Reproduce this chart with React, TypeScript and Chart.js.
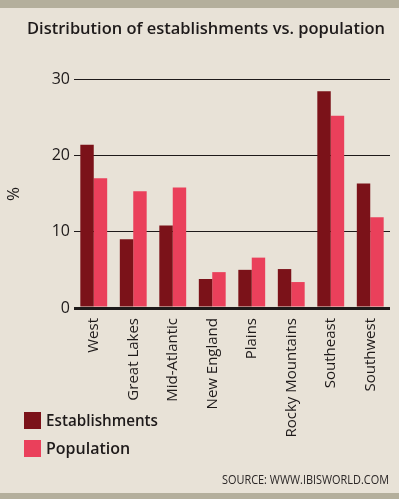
import React, { useEffect, useRef } from "react";
import { Chart, registerables } from "chart.js";

Chart.register(...registerables);

const categories = ["West", "Great Lakes", "Mid-Atlantic", "New England", "Plains", "Rocky Mountains", "Southeast", "Southwest"];
const establishments = [21.4, 9.0, 10.8, 3.8, 5.0, 5.1, 28.4, 16.3];
const population = [17.0, 15.3, 15.8, 4.7, 6.6, 3.4, 25.2, 11.9];
const seriesNames = ["Establishments", "Population"];
const seriesColors = ["#7B1219", "#EA405B"];
const titleText = "Distribution of establishments vs. population";
const sourceText = "SOURCE: WWW.IBISWORLD.COM";
const yTitle = "%";

const BG = "#E8E2D7";
const BAND = "#B4AF9C";
const INK = "#1E1A1A";
const FONT = "'Open Sans', sans-serif";

const decorPlugin = {
  id: "decor",
  beforeDraw(chart: any) {
    const ctx = chart.ctx;
    ctx.save();
    ctx.fillStyle = BG;
    ctx.fillRect(0, 0, chart.width, chart.height);
    ctx.fillStyle = BAND;
    ctx.fillRect(0, 0, chart.width, 8);
    ctx.fillRect(0, 493, chart.width, chart.height - 493);
    ctx.restore();
  },
  afterDraw(chart: any) {
    const ctx = chart.ctx;
    ctx.save();
    ctx.fillStyle = INK;
    ctx.textBaseline = "middle";
    ctx.textAlign = "left";
    ctx.font = `600 17px ${FONT}`;
    ctx.fillText(titleText, 27, 29, 358);

    ctx.save();
    ctx.translate(14, 194);
    ctx.rotate(-Math.PI / 2);
    ctx.textAlign = "center";
    ctx.font = `17px ${FONT}`;
    ctx.fillText(yTitle, 0, 0);
    ctx.restore();

    // legend
    const legendY = [420, 448];
    ctx.font = `600 16px ${FONT}`;
    seriesNames.forEach((name, i) => {
      ctx.fillStyle = seriesColors[i];
      ctx.fillRect(24, legendY[i] - 8, 17, 17);
      ctx.fillStyle = INK;
      ctx.textAlign = "left";
      ctx.fillText(name, 46, legendY[i] + 1, 112);
    });

    ctx.font = `12px ${FONT}`;
    ctx.textAlign = "right";
    ctx.fillStyle = "#2a2626";
    ctx.fillText(sourceText, 389, 481, 167);
    ctx.restore();
  },
};

export default function App() {
  const ref = useRef<HTMLCanvasElement>(null);
  useEffect(() => {
    const chart = new Chart(ref.current!, {
      type: "bar",
      data: {
        labels: categories,
        datasets: [
          { label: seriesNames[0], data: establishments, backgroundColor: seriesColors[0], borderWidth: 0 },
          { label: seriesNames[1], data: population, backgroundColor: seriesColors[1], borderWidth: 0 },
        ],
      },
      options: {
        animation: false,
        responsive: false,
        devicePixelRatio: 1,
        layout: { padding: { top: 79, right: 9, left: 0, bottom: 0 } },
        plugins: { legend: { display: false }, tooltip: { enabled: false } },
        datasets: { bar: { categoryPercentage: 0.68, barPercentage: 1.0 } },
        scales: {
          x: {
            grid: { display: false, drawTicks: false },
            border: { display: false },
            ticks: {
              minRotation: 90,
              maxRotation: 90,
              padding: 10,
              color: INK,
              font: { family: FONT, size: 15 },
              autoSkip: false,
            },
            afterFit(scale: any) {
              scale.height = 191;
            },
          },
          y: {
            min: 0,
            max: 30,
            ticks: { stepSize: 10, color: INK, padding: 4, font: { family: FONT, size: 16 } },
            grid: {
              color: INK,
              lineWidth: (c: any) => (c.tick && c.tick.value === 0 ? 3 : 1),
              drawTicks: false,
            },
            border: { display: false },
            afterFit(scale: any) {
              scale.width = 74;
            },
          },
        },
      },
      plugins: [decorPlugin],
    });
    return () => chart.destroy();
  }, []);
  return (
    <div style={{ position: "fixed", left: 0, top: 0, width: 399, height: 499, background: BG }}>
      <canvas ref={ref} width={399} height={499} style={{ width: 399, height: 499, display: "block" }} />
    </div>
  );
}
